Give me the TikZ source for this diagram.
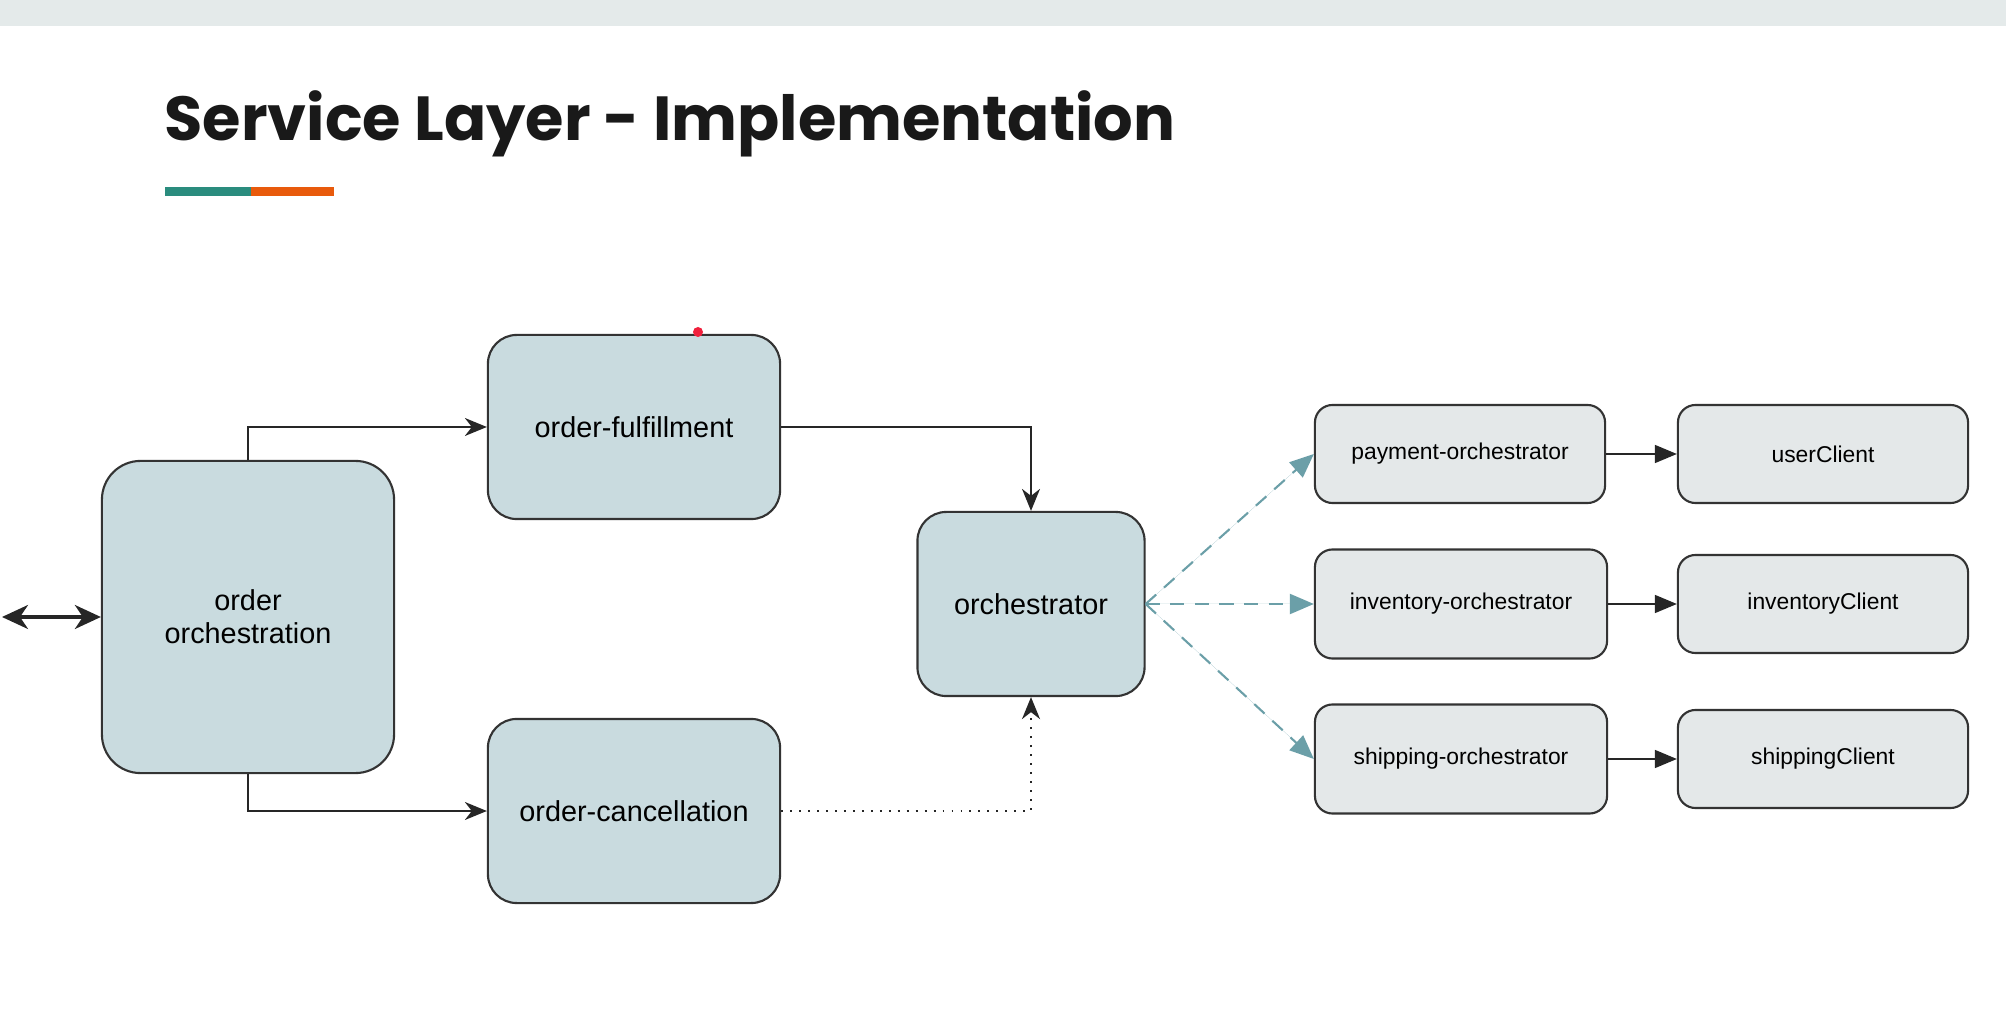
\documentclass[tikz,border=0pt]{standalone}
\usepackage{fontspec}
\setmainfont{Liberation Sans}
\newfontfamily\titlefont{Poppins}
\usetikzlibrary{positioning,arrows.meta}
\definecolor{cBand}{HTML}{E4EAEA}
\definecolor{cBig}{HTML}{C9DBDF}
\definecolor{cSmall}{HTML}{E4E8E9}
\definecolor{cEdge}{HTML}{333333}
\definecolor{cDash}{HTML}{6B9FA8}
\definecolor{cTeal}{HTML}{2A8C7E}
\definecolor{cOrange}{HTML}{E85A0C}
\definecolor{cDot}{HTML}{F0203C}
\tikzset{
  base/.style={draw=cEdge,line width=0.6pt,align=center,inner sep=0pt},
  bignode/.style={base,fill=cBig,font=\fontsize{8.2}{9.4}\selectfont,minimum width=2.92cm,minimum height=1.84cm,rounded corners=8.2pt},
  smallnode/.style={base,fill=cSmall,font=\fontsize{6.5}{8}\selectfont,minimum width=2.9cm,minimum height=0.98cm,rounded corners=5pt},
  arr/.style={-{Stealth[length=2.2mm,width=1.8mm,inset=0.7mm]},line width=0.45pt,draw=black!85},
  dblarr/.style={{Stealth[length=2.6mm,width=2.4mm,inset=0.8mm]}-{Stealth[length=2.6mm,width=2.4mm,inset=0.8mm]},line width=0.9pt,draw=black!85},
  dotarr/.style={arr,line width=0.55pt,dotted},
  farr/.style={-{Triangle[length=2.2mm,width=1.8mm]},line width=0.45pt,draw=black!85},
  tarr/.style={-{Triangle[length=2.4mm,width=2mm]},line width=0.6pt,draw=cDash,fill=cDash,dash pattern=on 4pt off 3pt}}
\begin{document}
\begin{tikzpicture}[x=0.01cm,y=-0.01cm]
\useasboundingbox (0,0) rectangle (2006,1022);
\fill[cBand] (0,0) rectangle (2006,26);
% title and bar
\node[anchor=base west,inner sep=0pt,font=\titlefont\bfseries\fontsize{17.7}{21}\selectfont,text=black!90] (title) at (164,141) {Service Layer - Implementation};
\fill[cTeal] (165,187) rectangle (251,196);
\fill[cOrange] (251,187) rectangle (334,196);
% left part
\node[bignode,minimum height=3.12cm,rounded corners=11pt] (ordorch) at (248,617) {order\\orchestration};
\node[bignode] (fulfil) at (634,427) {order-fulfillment};
\node[bignode] (cancel) at (634,811) {order-cancellation};
\node[bignode,minimum width=2.27cm] (orch) at (1031,604) {orchestrator};
\coordinate (edge) at (2,617);
\fill[cDot] (698,332) circle (5);
% right part
\node[smallnode] (payment) at (1460,454) {payment-orchestrator};
\node[smallnode,minimum width=2.92cm,minimum height=1.09cm] (inventory) at (1461,604) {inventory-orchestrator};
\node[smallnode,minimum width=2.92cm,minimum height=1.09cm] (shipping) at (1461,759) {shipping-orchestrator};
\node[smallnode] (user) at (1823,454) {userClient};
\node[smallnode] (invclient) at (1823,604) {inventoryClient};
\node[smallnode] (shipclient) at (1823,759) {shippingClient};
% connectors
\draw[dblarr] (edge) -- (ordorch.west);
\draw[arr] (ordorch.north) |- (fulfil.west);
\draw[arr] (ordorch.south) |- (cancel.west);
\draw[arr] (fulfil.east) -| (orch.north);
\draw[dotarr] (cancel.east) -| (orch.south);
\foreach \n in {payment,inventory,shipping}
  \draw[tarr] (orch.east) -- (\n.west);
\draw[farr] (payment) -- (user);
\draw[farr] (inventory) -- (invclient);
\draw[farr] (shipping) -- (shipclient);
\end{tikzpicture}
\end{document}
